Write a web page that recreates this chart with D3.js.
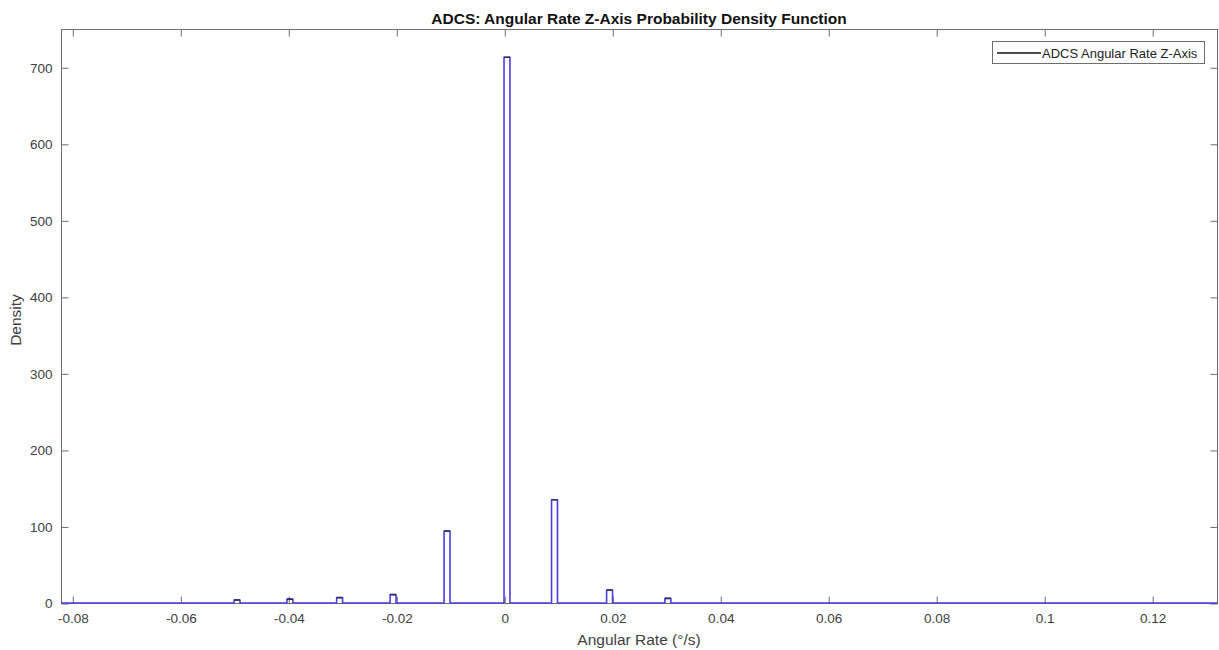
<!DOCTYPE html>
<html>
<head>
<meta charset="utf-8">
<script src="https://cdn.jsdelivr.net/npm/d3@7"></script>
<style>
  html, body { margin: 0; padding: 0; background: #fff; }
  svg { display: block; font-family: "Liberation Sans", Arial, Helvetica, sans-serif; }
</style>
</head>
<body>
<svg id="chart" width="1219" height="650"></svg>
<script>
// Estimated density of Z-axis angular rate: narrow bins around quantized rate levels
const binCenters = [-0.0495, -0.0397, -0.0305, -0.0206, -0.0106, 0.0005, 0.0093, 0.0195, 0.0303];
const binDensity = [4, 5, 7, 11, 94, 713, 135, 17, 6];
const binWidth = 0.0011;

const xTicks = [-0.08, -0.06, -0.04, -0.02, 0, 0.02, 0.04, 0.06, 0.08, 0.1, 0.12];
const yTicks = [0, 100, 200, 300, 400, 500, 600, 700];
const xDomain = [-0.0821, 0.1320];
const yDomain = [0, 750];

const seriesName = "ADCS Angular Rate Z-Axis";
const titleText = "ADCS: Angular Rate Z-Axis Probability Density Function";
const xLabel = "Angular Rate (\u00B0/s)";
const yLabel = "Density";

const svg = d3.select("#chart");
const m = { left: 61, right: 1217, top: 29, bottom: 603 };

const x = d3.scaleLinear().domain(xDomain).range([m.left, m.right]);
const y = d3.scaleLinear().domain(yDomain).range([m.bottom, m.top]);

const axisColor = "#6e6e6e";
const textColor = "#404040";
const tickFont = 13.5;

// Build the step outline of the density curve
const pts = [[xDomain[0], 0]];
binCenters.forEach((c, i) => {
  const l = c - binWidth / 2, r = c + binWidth / 2;
  pts.push([l, 0], [l, binDensity[i]], [r, binDensity[i]], [r, 0]);
});
pts.push([xDomain[1], 0]);

const line = d3.line().x(d => x(d[0])).y(d => y(d[1]));

// Axes box with inward ticks on every side
const g = svg.append("g");
g.append("rect")
  .attr("x", m.left + 0.5).attr("y", m.top + 0.5)
  .attr("width", m.right - m.left).attr("height", m.bottom - m.top)
  .attr("fill", "none").attr("stroke", axisColor).attr("stroke-width", 1);

const bottomAxis = d3.axisBottom(x).tickValues(xTicks).tickSizeInner(-7).tickSizeOuter(0)
  .tickFormat(d => d === 0 ? "0" : String(+d.toFixed(2)))
  .tickPadding(10);
const gx = g.append("g").attr("transform", `translate(0.5,${m.bottom + 0.5})`).call(bottomAxis);
gx.select(".domain").remove();
gx.selectAll("line").attr("stroke", axisColor);
gx.selectAll("text").attr("fill", textColor).attr("font-size", tickFont);

const topAxis = d3.axisTop(x).tickValues(xTicks).tickSizeInner(-7).tickSizeOuter(0).tickFormat("");
const gt = g.append("g").attr("transform", `translate(0.5,${m.top + 0.5})`).call(topAxis);
gt.select(".domain").remove();
gt.selectAll("line").attr("stroke", axisColor);

const leftAxis = d3.axisLeft(y).tickValues(yTicks).tickSizeInner(-7).tickSizeOuter(0).tickPadding(9);
const gy = g.append("g").attr("transform", `translate(${m.left + 0.5},0.5)`).call(leftAxis);
gy.select(".domain").remove();
gy.selectAll("line").attr("stroke", axisColor);
gy.selectAll("text").attr("fill", textColor).attr("font-size", tickFont);

const rightAxis = d3.axisRight(y).tickValues(yTicks).tickSizeInner(-7).tickSizeOuter(0).tickFormat("");
const gr = g.append("g").attr("transform", `translate(${m.right + 0.5},0.5)`).call(rightAxis);
gr.select(".domain").remove();
gr.selectAll("line").attr("stroke", axisColor);

svg.selectAll(".tick text").attr("font-family", "'Liberation Sans', Arial, sans-serif");

// Density curve
svg.append("path")
  .attr("d", line(pts))
  .attr("fill", "none")
  .attr("stroke", "#4a3ee0")
  .attr("stroke-width", 1.6)
  .attr("stroke-linejoin", "round");

// Dark caps on top of each bin
svg.append("g").selectAll("line")
  .data(binCenters)
  .join("line")
  .attr("x1", (c) => x(c - binWidth / 2))
  .attr("x2", (c) => x(c + binWidth / 2))
  .attr("y1", (c, i) => y(binDensity[i]))
  .attr("y2", (c, i) => y(binDensity[i]))
  .attr("stroke", "#2a2a55")
  .attr("stroke-width", 1.4);

// Title
svg.append("text")
  .attr("x", (m.left + m.right) / 2).attr("y", 24)
  .attr("text-anchor", "middle")
  .attr("font-weight", "bold").attr("font-size", 15.5)
  .attr("fill", "#111")
  .text(titleText);

// Axis labels
svg.append("text")
  .attr("x", (m.left + m.right) / 2).attr("y", 645)
  .attr("text-anchor", "middle").attr("font-size", 15.5)
  .attr("fill", textColor)
  .text(xLabel);

svg.append("text")
  .attr("transform", `translate(21,${(m.top + m.bottom) / 2 + 4}) rotate(-90)`)
  .attr("text-anchor", "middle").attr("font-size", 15.5)
  .attr("fill", textColor)
  .text(yLabel);

// Legend
const lg = svg.append("g").attr("transform", "translate(992,41)");
lg.append("rect").attr("x", 0.5).attr("y", 0.5).attr("width", 212).attr("height", 22)
  .attr("fill", "#fff").attr("stroke", axisColor);
lg.append("line").attr("x1", 5).attr("x2", 49).attr("y1", 12).attr("y2", 12)
  .attr("stroke", "#111").attr("stroke-width", 1.3);
lg.append("text").attr("x", 50).attr("y", 16.5).attr("font-size", 13)
  .attr("fill", "#222").text(seriesName);
</script>
</body>
</html>
